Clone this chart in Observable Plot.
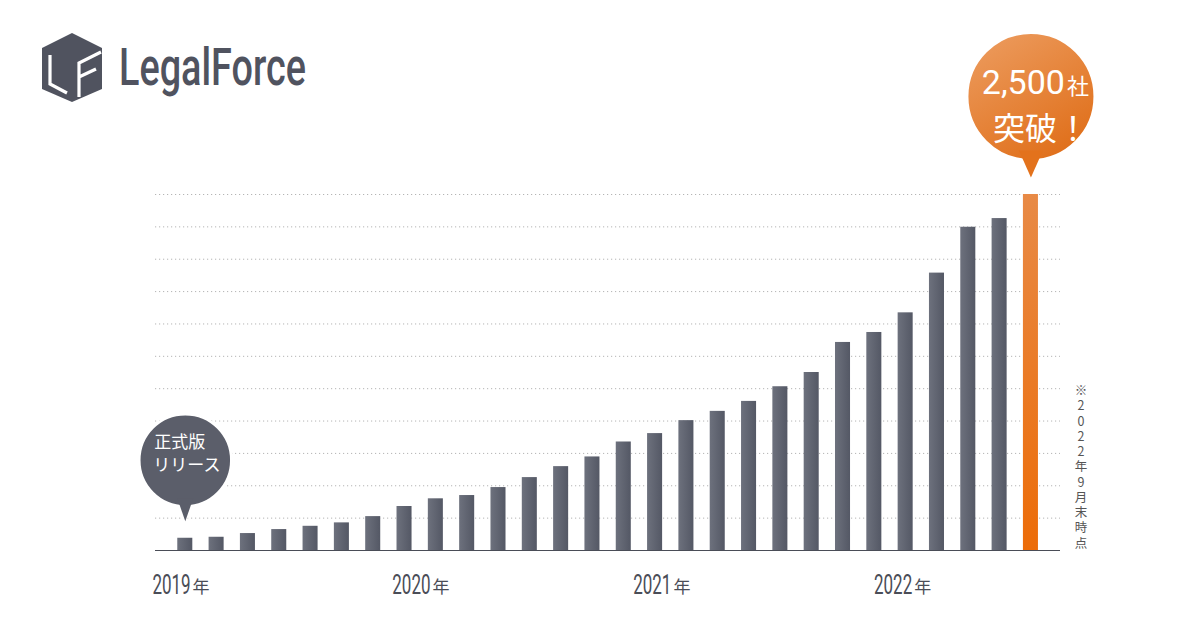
<!DOCTYPE html>
<html><head><meta charset="utf-8">
<script src="https://cdn.jsdelivr.net/npm/d3@7"></script>
<script src="https://cdn.jsdelivr.net/npm/@observablehq/plot@0.6"></script>
<style>
html,body{margin:0;padding:0;background:#fff;}
#wrap{position:relative;width:1200px;height:630px;overflow:hidden;background:#fff;}
#logo{position:absolute;left:0;top:0;}
g[aria-label="bars"]{filter:drop-shadow(5px 3px 4px rgba(80,95,130,0.35));}
g[aria-label="bubble"]{filter:drop-shadow(3px 4px 5px rgba(60,70,90,0.35));}
</style></head><body><div id="wrap">
<svg id="logo" width="460" height="130" viewBox="0 0 460 130">
  <polygon points="72,33 102,48 102,89 72,102 42,89 42,48" fill="#50535f"/>
  <path d="M50,55 L50,84 L67,93" fill="none" stroke="#fff" stroke-width="3.2" stroke-linejoin="miter"/>
  <path d="M79,97 L79,63 L101,52 M79,77 L96,69" fill="none" stroke="#fff" stroke-width="3.2"/>
  <text x="119" y="85" font-family="Roboto" font-weight="500" font-size="51" fill="#50535f" textLength="187" lengthAdjust="spacingAndGlyphs">LegalForce</text>
</svg>
</div>
<script>
// bar index (one bar per period, release to Sept 2022)
const barIndex = [0,1,2,3,4,5,6,7,8,9,10,11,12,13,14,15,16,17,18,19,20,21,22,23,24,25,26,27];
// number of client companies (approx.)
const companies = [86,93,119,147,170,194,238,309,363,386,442,512,589,657,762,821,912,977,1047,1150,1250,1461,1531,1669,1948,2270,2331,2500];
// year labels and where they sit along the bar index
const years = ["2019","2020","2021","2022"];
const yearPos = [0.17,7.83,15.52,23.21];
const gridCount = 11;
const noteText = "※2022年9月末時点";
const releaseText = ["正式版","リリース"];
const milestoneText = ["2,500","社","突破！"];

const data = barIndex.map((i,k)=>({i, v: companies[k]}));
const last = [data[data.length-1]];
const first = [data[0]];
const gray = data.slice(0,-1);
const gridTicks = d3.range(1, gridCount+1).map(k => k*companies[companies.length-1]/gridCount);
const yearData = years.map((y,k)=>({y, p: yearPos[k]}));

const pointerBig = {draw(ctx){ctx.moveTo(-12,-14);ctx.lineTo(12,-14);ctx.lineTo(0,13);ctx.closePath();}};
const pointerSmall = {draw(ctx){ctx.moveTo(-8,-12);ctx.lineTo(8,-12);ctx.lineTo(0,11);ctx.closePath();}};
const jp = "Noto Sans CJK JP";

const chart = Plot.plot({
  width:1200, height:630,
  marginLeft:155, marginRight:140, marginTop:194, marginBottom:80,
  x:{domain:[-0.951,27.944], axis:null},
  y:{domain:[0,2500], axis:null},
  style:{background:"transparent", overflow:"visible"},
  marks:[
    Plot.ruleY(gridTicks, {stroke:"#b5b5b5", strokeDasharray:"1.2,2.8", strokeWidth:1}),
    Plot.rect(gray, {x1:d=>d.i-0.24, x2:d=>d.i+0.24, y1:0, y2:"v", fill:"url(#gBar)", ariaLabel:"bars"}),
    Plot.rect(last, {x1:d=>d.i-0.24, x2:d=>d.i+0.24, y1:0, y2:"v", fill:"url(#gOrange)", ariaLabel:"bars"}),
    Plot.ruleY([0], {stroke:"#4a4d57", strokeWidth:1.2}),
    // release bubble
    Plot.dot(first, {x:"i", y:"v", dy:-28, symbol:pointerSmall, fill:"#5b5e6a", stroke:"#fff", strokeWidth:2.5, ariaLabel:"bubble"}),
    Plot.dot(first, {x:"i", y:"v", dy:-78, r:46, fill:"#5b5e6a", stroke:"#fff", strokeWidth:2.5, ariaLabel:"bubble"}),
    Plot.dot(first, {x:"i", y:"v", dy:-28, symbol:pointerSmall, fill:"#5b5e6a"}),
    Plot.text(first, {x:"i", y:"v", text:()=>releaseText[0], textAnchor:"start", lineAnchor:"bottom", dx:-31, dy:-90, fontSize:17, fill:"#fff", fontFamily:jp}),
    Plot.text(first, {x:"i", y:"v", text:()=>releaseText[1], textAnchor:"start", lineAnchor:"bottom", dx:-32, dy:-67, fontSize:17, fill:"#fff", fontFamily:jp}),
    // milestone bubble
    Plot.dot(last, {x:"i", y:"v", dy:-30, symbol:pointerBig, fill:"#e3721c", stroke:"#fff", strokeWidth:3, ariaLabel:"bubble"}),
    Plot.dot(last, {x:"i", y:"v", dy:-98, r:64, fill:"url(#gBubble)", stroke:"#fff", strokeWidth:3, ariaLabel:"bubble"}),
    Plot.dot(last, {x:"i", y:"v", dy:-30, symbol:pointerBig, fill:"#e3721c"}),
    Plot.text(last, {x:"i", y:"v", text:()=>milestoneText[0], textAnchor:"end", lineAnchor:"bottom", dx:34, dy:-101, fontSize:34, fill:"#fff", fontFamily:"Roboto"}),
    Plot.text(last, {x:"i", y:"v", text:()=>milestoneText[1], textAnchor:"start", lineAnchor:"bottom", dx:36, dy:-101, fontSize:22, fill:"#fff", fontFamily:jp}),
    Plot.text(last, {x:"i", y:"v", text:()=>milestoneText[2], textAnchor:"middle", lineAnchor:"bottom", dx:10, dy:-55, fontSize:32, fill:"#fff", fontFamily:jp}),
    // year labels
    Plot.text(yearData, {x:"p", y:0, text:"y", textAnchor:"end", lineAnchor:"bottom", dy:43, fontSize:27, fill:"#4a4d57", fontFamily:"Roboto"}),
    Plot.text(yearData, {x:"p", y:0, text:()=>"年", textAnchor:"start", lineAnchor:"bottom", dx:2, dy:42, fontSize:17, fill:"#4a4d57", fontFamily:jp}),
    // vertical note (one character per line)
    Plot.text(last, {x:"i", y:0, text:()=>[...noteText].join("\n"), textAnchor:"middle", lineAnchor:"bottom", lineHeight:1.22, dx:50, dy:-3, fontSize:12.5, fill:"#555", fontFamily:jp})
  ]
});

const svg = d3.select(chart);
const defs = svg.insert("defs", ":first-child");
const gb = defs.append("linearGradient").attr("id","gBar").attr("x1",0).attr("x2",1).attr("y1",0).attr("y2",0);
gb.append("stop").attr("offset",0).attr("stop-color","#6d717d");
gb.append("stop").attr("offset",1).attr("stop-color","#545865");
const go = defs.append("linearGradient").attr("id","gOrange").attr("x1",0).attr("x2",0).attr("y1",0).attr("y2",1);
go.append("stop").attr("offset",0).attr("stop-color","#e88a46");
go.append("stop").attr("offset",1).attr("stop-color","#ec6c08");
const gbu = defs.append("linearGradient").attr("id","gBubble").attr("x1",0.2).attr("x2",0.8).attr("y1",0).attr("y2",1);
gbu.append("stop").attr("offset",0).attr("stop-color","#ec9a5c");
gbu.append("stop").attr("offset",1).attr("stop-color","#df6d17");

// condensed year digits
svg.selectAll("text").filter(function(){return /^20\d\d$/.test(this.textContent);})
  .each(function(){
    const t = d3.select(this);
    const tr = t.attr("transform") || "";
    t.attr("transform", (tr + " scale(0.63,1)").trim());
  });

chart.style.position = "absolute"; chart.style.left = "0"; chart.style.top = "0";
document.getElementById("wrap").insertBefore(chart, document.getElementById("logo"));
</script>
</body></html>
